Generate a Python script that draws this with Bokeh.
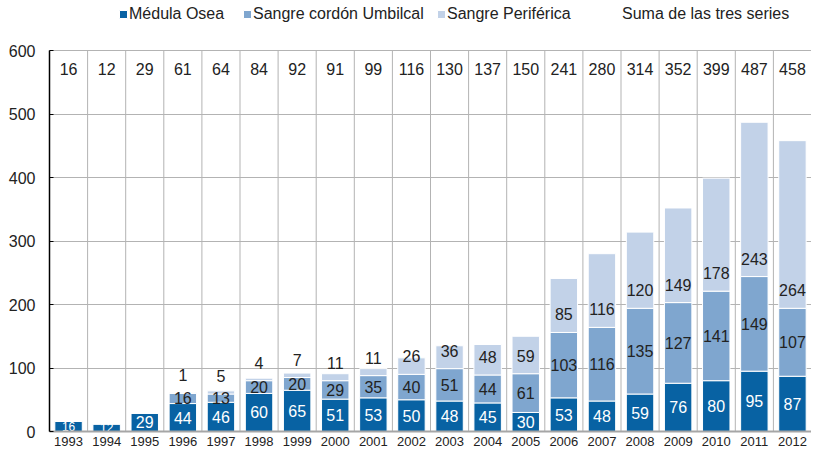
from bokeh.plotting import figure
from bokeh.models import ColumnDataSource, FixedTicker, Legend, LegendItem, Range1d
from bokeh.embed import file_html
from bokeh.resources import INLINE
from bokeh.core.properties import value

years = [str(y) for y in range(1993, 2013)]
medula = [16, 12, 29, 44, 46, 60, 65, 51, 53, 50, 48, 45, 30, 53, 48, 59, 76, 80, 95, 87]
cordon = [0, 0, 0, 16, 13, 20, 20, 29, 35, 40, 51, 44, 61, 103, 116, 135, 127, 141, 149, 107]
periferica = [0, 0, 0, 1, 5, 4, 7, 11, 11, 26, 36, 48, 59, 85, 116, 120, 149, 178, 243, 264]
suma = [16, 12, 29, 61, 64, 84, 92, 91, 99, 116, 130, 137, 150, 241, 280, 314, 352, 399, 487, 458]
y_ticks = [0, 100, 200, 300, 400, 500, 600]
sum_label_level = 571

series_names = ["Médula Osea", "Sangre cordón Umbilcal", "Sangre Periférica"]
sum_name = "Suma de las tres series"
colors = ["#0862a3", "#7fa6cf", "#c2d2e8"]
FONT = "Liberation Sans"
TXT = "#222222"
GRID = "#b3b3b3"

# layout (pixels)
H = 455
BOTTOM = 24
LEFT = 49
FRAME_H = H - BOTTOM          # frame starts at canvas top, legend lives inside it
AXIS_TOP_PX = 50              # where the value 600 sits (from canvas top)
y_max = max(y_ticks)
y_end = y_max * FRAME_H / (FRAME_H - AXIS_TOP_PX)

idx = list(range(len(years)))
src = ColumnDataSource(dict(x=idx, medula=medula, cordon=cordon, periferica=periferica))

p = figure(width=811, height=H, output_backend="svg", toolbar_location=None,
           x_range=Range1d(-0.5, len(years) - 0.5), y_range=Range1d(0, y_end),
           min_border_left=LEFT, min_border_right=0, min_border_top=0, min_border_bottom=BOTTOM)
p.outline_line_color = None
p.background_fill_color = "white"

# vertical separators between categories (only within the value area)
bounds = [i - 0.5 for i in range(len(years) + 1)]
p.segment(x0=bounds, y0=[0] * len(bounds), x1=bounds, y1=[y_max] * len(bounds),
          line_color=GRID, line_width=1, level="underlay")
p.xgrid.grid_line_color = None
p.ygrid.ticker = FixedTicker(ticks=y_ticks)
p.ygrid.grid_line_color = GRID
p.ygrid.level = "underlay"

bars = p.vbar_stack(["medula", "cordon", "periferica"], x="x", width=0.72, source=src,
                    color=colors, line_color="white", line_width=1)

# axes
p.xaxis.ticker = FixedTicker(ticks=idx)
p.xaxis.major_label_overrides = {i: y for i, y in zip(idx, years)}
p.xaxis.axis_line_color = "#a6a6a6"
p.xaxis.axis_line_width = 2
p.xaxis.major_tick_line_color = None
p.xaxis.major_tick_out = 0
p.xaxis.major_tick_in = 0
p.xaxis.minor_tick_line_color = None
p.xaxis.major_label_standoff = 5
p.xaxis.major_label_text_font = FONT
p.xaxis.major_label_text_font_size = "13px"
p.xaxis.major_label_text_color = TXT

p.yaxis.ticker = FixedTicker(ticks=y_ticks)
p.yaxis.bounds = (0, y_max)
p.yaxis.axis_line_color = "black"
p.yaxis.axis_line_width = 1.5
p.yaxis.major_tick_in = 4
p.yaxis.major_tick_out = 0
p.yaxis.major_tick_line_color = "black"
p.yaxis.minor_tick_line_color = None
p.yaxis.major_label_standoff = 14
p.yaxis.major_label_text_font = FONT
p.yaxis.major_label_text_font_size = "16px"
p.yaxis.major_label_text_color = TXT

# labels: medula (white, centred)
m_src = ColumnDataSource(dict(
    x=idx, y=[v / 2 for v in medula], t=[str(v) for v in medula],
    s=["12px" if v < 20 else "16px" for v in medula]))
p.text(x="x", y="y", text="t", source=m_src, text_color="white", text_font=value(FONT),
       text_font_size="s", text_align="center", text_baseline="middle")

# cordon (centred)
ci = [i for i in idx if cordon[i] > 0]
c_src = ColumnDataSource(dict(
    x=ci, y=[medula[i] + cordon[i] / 2 for i in ci], t=[str(cordon[i]) for i in ci]))
p.text(x="x", y="y", text="t", source=c_src, text_color=TXT, text_font=value(FONT),
       text_font_size="16px", text_align="center", text_baseline="middle")

# periferica (just above the cordon segment top)
pi = [i for i in idx if periferica[i] > 0]
p_src = ColumnDataSource(dict(
    x=pi, y=[medula[i] + cordon[i] for i in pi], t=[str(periferica[i]) for i in pi]))
p.text(x="x", y="y", text="t", source=p_src, text_color=TXT, text_font=value(FONT),
       text_font_size="16px", text_align="center", text_baseline="middle", y_offset=-18)

# sums at top
s_src = ColumnDataSource(dict(x=idx, y=[sum_label_level] * len(idx), t=[str(v) for v in suma]))
p.text(x="x", y="y", text="t", source=s_src, text_color=TXT, text_font=value(FONT),
       text_font_size="16px", text_align="center", text_baseline="middle")

dummy = p.rect(x=[0], y=[0], width=0, height=0, fill_alpha=0, line_alpha=0)

def make_legend(label, renderer, x):
    return Legend(items=[LegendItem(label=label, renderers=[renderer])],
                  orientation="horizontal", location=(x, FRAME_H - 23),
                  glyph_width=10, glyph_height=10, label_standoff=1, spacing=0,
                  padding=0, margin=0, border_line_alpha=0, background_fill_alpha=0,
                  label_text_font=FONT, label_text_font_size="16px", label_text_color=TXT,
                  label_height=16)

leg_x = [69, 193, 387]
for name, r, x in zip(series_names, bars, leg_x):
    p.add_layout(make_legend(name, r, x))
p.add_layout(make_legend(sum_name, dummy, 562))

open("out.html", "w").write(file_html(p, INLINE))
